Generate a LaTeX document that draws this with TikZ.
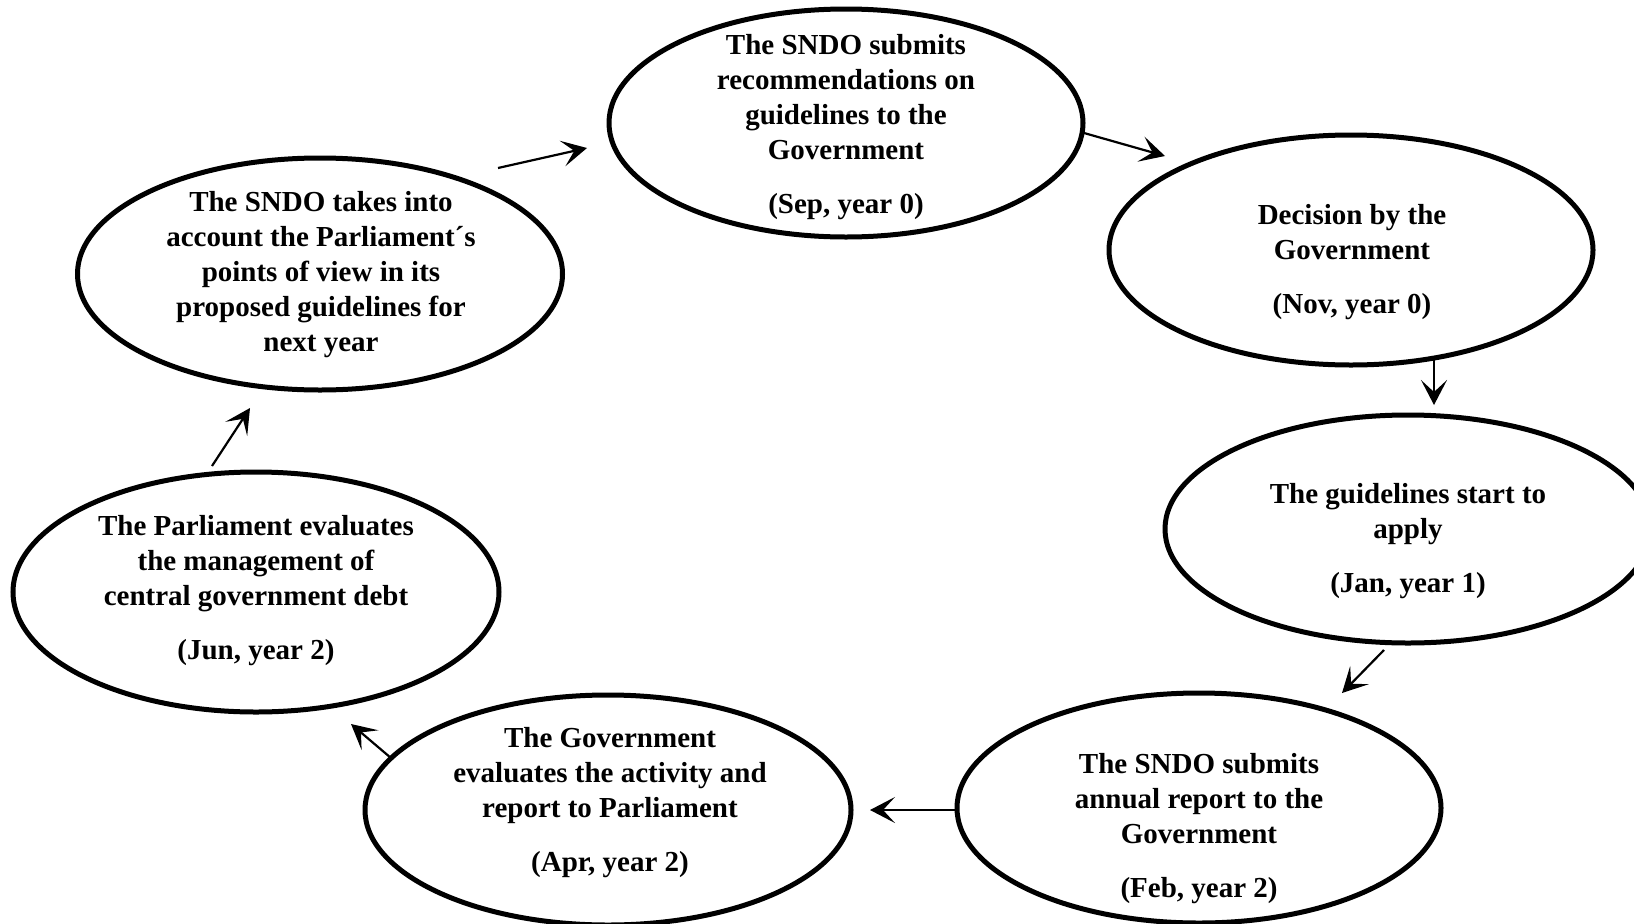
\documentclass[tikz,border=0pt]{standalone}
\usepackage{fontspec}
\setmainfont{Liberation Serif}
\usetikzlibrary{shapes.geometric,arrows.meta}
\tikzset{
  stage/.style={draw=black, line width=5pt, ellipse, inner sep=0pt},
  stagetext/.style={align=center, font=\fontsize{29}{35}\selectfont\bfseries, inner sep=0pt},
  flow/.style={line width=2.2pt, -{Stealth[length=25pt,width=26pt,inset=12pt]}}
}
\begin{document}
\begin{tikzpicture}[x=1pt,y=-1pt]
\useasboundingbox (0,0) rectangle (1634,924);
% ellipses
\node[stage, minimum width=474pt, minimum height=228pt] (sep) at (846,123) {};
\node[stage, minimum width=484pt, minimum height=230pt] (nov) at (1351,250) {};
\node[stage, minimum width=486pt, minimum height=228pt] (jan) at (1408,529) {};
\node[stage, minimum width=484pt, minimum height=230pt] (feb) at (1199,808) {};
\node[stage, minimum width=486pt, minimum height=230pt] (apr) at (608,810) {};
\node[stage, minimum width=486pt, minimum height=240pt] (jun) at (256,592) {};
\node[stage, minimum width=485pt, minimum height=232pt] (tak) at (320,274) {};
% texts
\node[stagetext] (sept) at (846,127) {The SNDO submits\\recommendations on\\guidelines to the\\Government\\[19pt](Sep, year 0)};
\node[stagetext] (novt) at (1352,262) {Decision by the\\Government\\[19pt](Nov, year 0)};
\node[stagetext] (jant) at (1408,541) {The guidelines start to\\apply\\[19pt](Jan, year 1)};
\node[stagetext] (febt) at (1199,829) {The SNDO submits\\annual report to the\\Government\\[19pt](Feb, year 2)};
\node[stagetext] (aprt) at (610,803) {The Government\\evaluates the activity and\\report to Parliament\\[19pt](Apr, year 2)};
\node[stagetext] (junt) at (256,591) {The Parliament evaluates\\the management of\\central government debt\\[19pt](Jun, year 2)};
\node[stagetext] (takt) at (321,275) {The SNDO takes into\\account the Parliament´s\\points of view in its\\proposed guidelines for\\next year};
% arrow end points
\coordinate (a1s) at (212,466); \coordinate (a1e) at (250,408);
\coordinate (a2s) at (498,168); \coordinate (a2e) at (587,148);
\coordinate (a3s) at (1084,133); \coordinate (a3e) at (1165,156);
\coordinate (a4s) at (1434,360); \coordinate (a4e) at (1434,405);
\coordinate (a5s) at (1384,650); \coordinate (a5e) at (1342,693);
\coordinate (a6s) at (957,810); \coordinate (a6e) at (870,810);
\coordinate (a7s) at (391,758); \coordinate (a7e) at (351,724);
\draw[flow] (a1s) -- (a1e);
\draw[flow] (a2s) -- (a2e);
\draw[flow] (a3s) -- (a3e);
\draw[flow] (a4s) -- (a4e);
\draw[flow] (a5s) -- (a5e);
\draw[flow] (a6s) -- (a6e);
\draw[flow] (a7s) -- (a7e);
\end{tikzpicture}
\end{document}
